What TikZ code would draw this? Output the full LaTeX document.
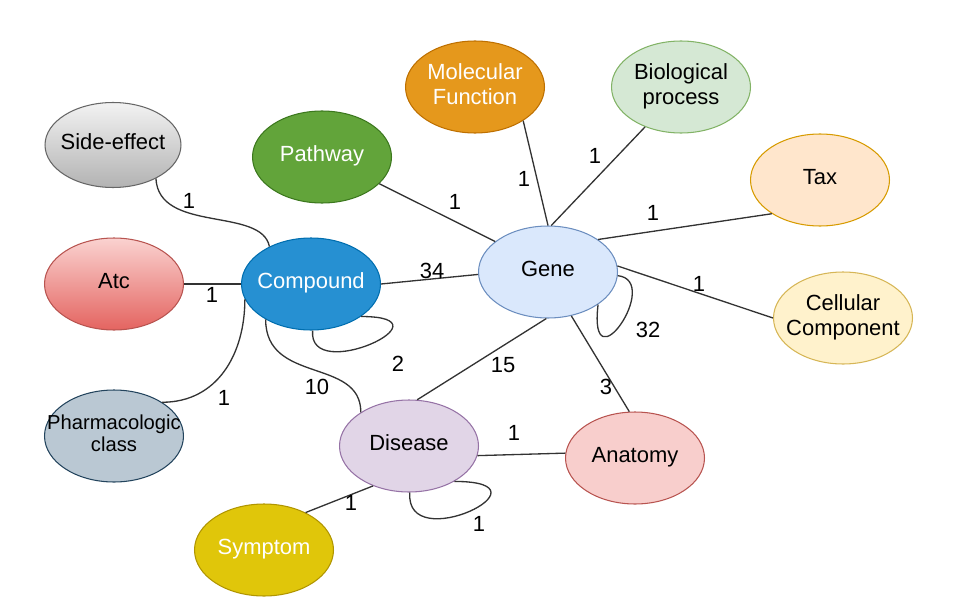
\documentclass[tikz,border=0pt]{standalone}
\usepackage{fontspec}
\setmainfont{Liberation Sans}
\usetikzlibrary{shapes.geometric}
\definecolor{edgec}{HTML}{333333}
\newcommand{\zw}[1]{\makebox[0pt]{\begin{tabular}{@{}c@{}}#1\end{tabular}}}
\tikzset{
  ent/.style={ellipse, draw, line width=0.6pt, minimum width=2.78cm, minimum height=1.84cm, inner sep=0pt, font=\fontsize{12.5}{14}\selectfont},
  elab/.style={font=\fontsize{12.5}{14}\selectfont, text=black, inner sep=1pt},
  link/.style={draw=edgec, line width=0.75pt},
}
\begin{document}
\begin{tikzpicture}[x=0.02cm,y=-0.02cm]
\useasboundingbox (0,0) rectangle (960,615);
% nodes
\node[ent, draw=gray!80!black, top color=white!95!black, bottom color=black!30, minimum width=2.72cm, minimum height=1.7cm] (se) at (113,145) {\zw{Side-effect}};
\node[ent, fill={rgb,255:red,98;green,164;blue,58}, draw={rgb,255:red,60;green,120;blue,30}, text=white] (pw) at (322,157) {\zw{Pathway}};
\node[ent, fill={rgb,255:red,229;green,152;blue,28}, draw={rgb,255:red,190;green,112;blue,0}, text=white] (mf) at (475,87) {\zw{Molecular\\Function}};
\node[ent, fill={rgb,255:red,213;green,232;blue,212}, draw={rgb,255:red,130;green,179;blue,102}] (bp) at (681,87) {\zw{Biological\\process}};
\node[ent, fill={rgb,255:red,255;green,230;blue,204}, draw={rgb,255:red,215;green,155;blue,0}] (tax) at (820,180) {\zw{Tax}};
\node[ent, draw={rgb,255:red,184;green,84;blue,80}, top color={rgb,255:red,250;green,210;blue,208}, bottom color={rgb,255:red,228;green,100;blue,96}] (atc) at (114,284) {\zw{Atc}};
\node[ent, fill={rgb,255:red,38;green,144;blue,210}, draw={rgb,255:red,0;green,110;blue,175}, text=white] (comp) at (311,284) {\zw{Compound}};
\node[ent, fill={rgb,255:red,218;green,232;blue,252}, draw={rgb,255:red,108;green,142;blue,191}] (gene) at (548,272) {\zw{Gene}};
\node[ent, fill={rgb,255:red,255;green,242;blue,204}, draw={rgb,255:red,214;green,182;blue,86}] (cc) at (843,318) {\zw{Cellular\\Component}};
\node[ent, fill={rgb,255:red,186;green,200;blue,211}, draw={rgb,255:red,35;green,68;blue,93}, font=\fontsize{11.5}{13}\selectfont] (pc) at (114,436) {\zw{Pharmacologic\\class}};
\node[ent, fill={rgb,255:red,225;green,213;blue,231}, draw={rgb,255:red,150;green,115;blue,166}] (dis) at (409,446) {\zw{Disease}};
\node[ent, fill={rgb,255:red,248;green,206;blue,204}, draw={rgb,255:red,184;green,84;blue,80}] (ana) at (635,458) {\zw{Anatomy}};
\node[ent, fill={rgb,255:red,224;green,198;blue,10}, draw={rgb,255:red,176;green,149;blue,0}, text=white] (sym) at (264,550) {\zw{Symptom}};
% edges
\draw[link] (se.-38) .. controls +(3,55) and +(-8,-40) .. (comp.138);
\draw[link] (atc.0) -- (comp.180);
\draw[link] (pc.35) .. controls +(55,0) and +(0,55) .. (comp.193);
\draw[link] (comp.218) .. controls +(0,65) and +(0,-55) .. (dis.145);
\draw[link] (comp.-33) .. controls +(95,0) and +(-5,55) .. (comp.-88);
\draw[link] (comp.0) -- (gene.182);
\draw[link] (pw.-25) -- (gene.150);
\draw[link] (mf.-35) -- (gene.90);
\draw[link] (bp.-132) -- (gene.86);
\draw[link] (tax.-145) -- (gene.33);
\draw[link] (cc.180) -- (gene.5);
\draw[link] (gene.-3) .. controls +(45,5) and +(-10,85) .. (gene.-33);
\draw[link] (gene.-62) -- (ana.97);
\draw[link] (dis.80) -- (gene.-92);
\draw[link] (dis.-8) -- (ana.176);
\draw[link] (dis.-38) .. controls +(105,0) and +(-5,65) .. (dis.-89);
\draw[link] (dis.-132) -- (sym.42);
% labels
\node[elab] (l1) at (189,201) {1};
\node[elab] (l2) at (212,295) {1};
\node[elab] (l3) at (224,398) {1};
\node[elab] (l4) at (317,387) {10};
\node[elab] (l5) at (398,364) {2};
\node[elab] (l6) at (432,271) {34};
\node[elab] (l7) at (455,202) {1};
\node[elab] (l8) at (524,179) {1};
\node[elab] (l9) at (595,156) {1};
\node[elab] (l10) at (653,213) {1};
\node[elab] (l11) at (699,284) {1};
\node[elab] (l12) at (648,330) {32};
\node[elab] (l13) at (503,365) {15};
\node[elab] (l14) at (606,387) {3};
\node[elab] (l15) at (514,433) {1};
\node[elab] (l16) at (479,524) {1};
\node[elab] (l17) at (351,503) {1};
\end{tikzpicture}
\end{document}
